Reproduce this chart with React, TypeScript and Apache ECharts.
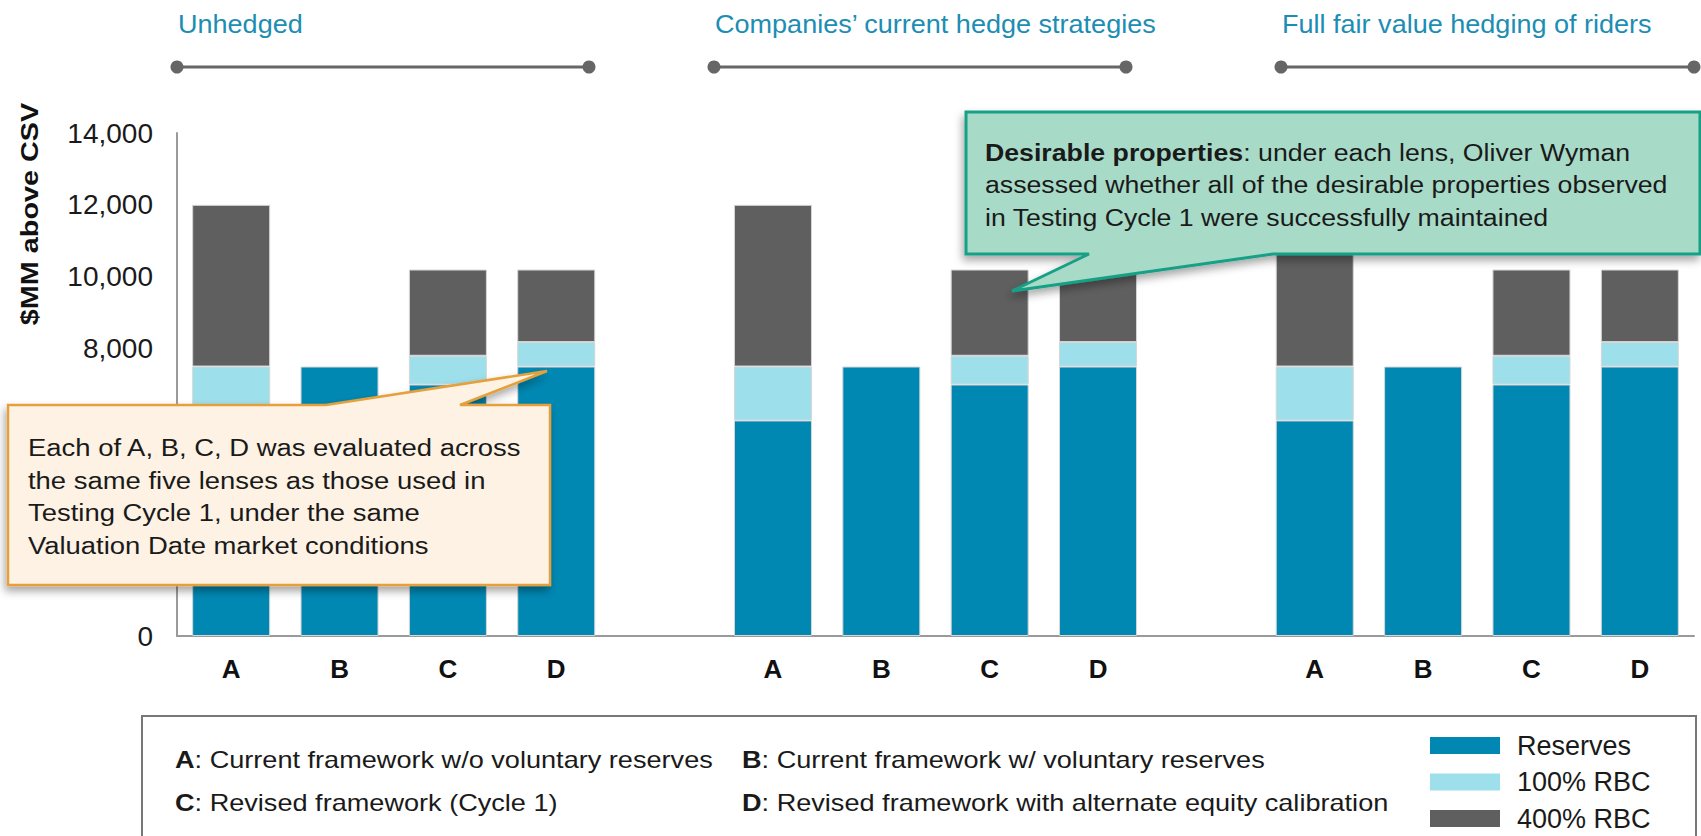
import React, { useEffect, useRef } from "react";
import * as echarts from "echarts";

const categories = ["A", "B", "C", "D", "", "A", "B", "C", "D", "", "A", "B", "C", "D"];
const reserves = [6000, 7500, 7000, 7500, null, 6000, 7500, 7000, 7500, null, 6000, 7500, 7000, 7500];
const rbc100 = [1500, null, 800, 680, null, 1500, null, 800, 680, null, 1500, null, 800, 680];
const rbc400 = [4500, null, 2400, 2020, null, 4500, null, 2400, 2020, null, 4500, null, 2400, 2020];
const seriesNames = ["Reserves", "100% RBC", "400% RBC"];
const seriesColors = ["#0088B3", "#9DDFEB", "#5F5F5F"];
const yTicks = { min: 0, max: 14000, interval: 2000 };
const yHiddenBelow = 8000; // labels 2,000–6,000 sit under the callout in the reference
const lensLabels = ["Unhedged", "Companies’ current hedge strategies", "Full fair value hedging of riders"];
const keyLabels = [
  ["A", ": Current framework w/o voluntary reserves"],
  ["B", ": Current framework w/ voluntary reserves"],
  ["C", ": Revised framework (Cycle 1)"],
  ["D", ": Revised framework with alternate equity calibration"],
];

const FONT = "Arial, 'Liberation Sans', Helvetica, sans-serif";

export default function App() {
  const ref = useRef<HTMLDivElement>(null);
  useEffect(() => {
    const chart = echarts.init(ref.current!, null, { renderer: "svg" });
    const mkBar = (name: string, data: (number | null)[], color: string) => ({
      name,
      type: "bar",
      stack: "total",
      data,
      barWidth: "72%",
      itemStyle: { color, borderColor: "#D6D6D6", borderWidth: 1 },
    });
    const brackets = [
      [177, 589],
      [714, 1126],
      [1281, 1694],
    ];
    const bracketEls: any[] = [];
    brackets.forEach(([x1, x2], i) => {
      bracketEls.push({
        type: "line",
        shape: { x1, y1: 67, x2, y2: 67 },
        style: { stroke: "#666666", lineWidth: 3 },
      });
      bracketEls.push({ type: "circle", shape: { cx: x1, cy: 67, r: 6.5 }, style: { fill: "#666666" } });
      bracketEls.push({ type: "circle", shape: { cx: x2, cy: 67, r: 6.5 }, style: { fill: "#666666" } });
      bracketEls.push({
        type: "text",
        x: x1 + 1,
        y: 24,
        scaleX: 1.04,
        style: {
          text: lensLabels[i],
          font: `26px ${FONT}`,
          fill: "#1C8DB3",
          verticalAlign: "middle",
          align: "left",
        },
      });
    });

    const keyPos = [
      [175, 760],
      [742, 760],
      [175, 803],
      [742, 803],
    ];
    const keyEls = keyLabels.map(([k, t], i) => ({
      type: "text",
      x: keyPos[i][0],
      y: keyPos[i][1],
      scaleX: 1.13,
      style: {
        text: `{b|${k}}${t}`,
        font: `24px ${FONT}`,
        fill: "#1a1a1a",
        verticalAlign: "middle",
        rich: { b: { fontWeight: "bold", fontSize: 24, fontFamily: FONT, fill: "#1a1a1a" } },
      },
    }));

    const option: any = {
      animation: false,
      textStyle: { fontFamily: FONT },
      grid: { left: 177, right: 7, top: 133, bottom: 200, containLabel: false },
      xAxis: {
        type: "category",
        data: categories,
        axisLine: { lineStyle: { color: "#9A9A9A", width: 2 } },
        axisTick: { show: false },
        axisLabel: { fontSize: 26, fontWeight: "bold", color: "#111", margin: 20, fontFamily: FONT },
      },
      yAxis: {
        type: "value",
        min: yTicks.min,
        max: yTicks.max,
        interval: yTicks.interval,
        axisLine: { show: true, lineStyle: { color: "#9A9A9A", width: 2 } },
        axisTick: { show: false },
        splitLine: { show: false },
        axisLabel: {
          fontSize: 28,
          color: "#1a1a1a",
          margin: 24,
          fontFamily: FONT,
          formatter: (v: number) => (v > 0 && v < yHiddenBelow ? "" : v.toLocaleString("en-US")),
        },
      },
      legend: {
        orient: "vertical",
        left: 1430,
        top: 732,
        height: 100,
        padding: 0,
        itemWidth: 70,
        itemHeight: 17,
        itemGap: 9.5,
        icon: "rect",
        data: seriesNames,
        itemStyle: { borderWidth: 0 },
        textStyle: { fontSize: 27, lineHeight: 24, color: "#1a1a1a", fontFamily: FONT, padding: [0, 0, 0, 12] },
      },
      series: [
        mkBar(seriesNames[0], reserves, seriesColors[0]),
        mkBar(seriesNames[1], rbc100, seriesColors[1]),
        mkBar(seriesNames[2], rbc400, seriesColors[2]),
      ],
      graphic: [
        ...bracketEls,
        {
          type: "text",
          x: 30,
          y: 214,
          rotation: Math.PI / 2,
          scaleX: 1.2,
          style: {
            text: "$MM above CSV",
            font: `bold 24px ${FONT}`,
            fill: "#111",
            align: "center",
            verticalAlign: "middle",
          },
        },
        // key box
        {
          type: "rect",
          z: 1,
          shape: { x: 142, y: 716, width: 1554, height: 200 },
          style: { fill: "none", stroke: "#777777", lineWidth: 2 },
        },
        ...keyEls,
        // orange callout
        {
          type: "polygon",
          z: 100,
          shape: {
            points: [
              [8, 405],
              [326, 405],
              [547, 371],
              [460, 405],
              [550, 405],
              [550, 585],
              [8, 585],
            ],
          },
          style: {
            fill: "#FDF2E4",
            stroke: "#E6A03A",
            lineWidth: 2.5,
            shadowBlur: 8,
            shadowOffsetX: -2,
            shadowOffsetY: 5,
            shadowColor: "rgba(0,0,0,0.35)",
          },
        },
        {
          type: "text",
          z: 101,
          x: 28,
          y: 431,
          scaleX: 1.12,
          style: {
            text:
              "Each of A, B, C, D was evaluated across\nthe same five lenses as those used in\nTesting Cycle 1, under the same\nValuation Date market conditions",
            font: `24.5px ${FONT}`,
            lineHeight: 32.7,
            fill: "#1a1a1a",
            verticalAlign: "top",
            align: "left",
          },
        },
        // green callout
        {
          type: "polygon",
          z: 100,
          shape: {
            points: [
              [966, 112],
              [1700, 112],
              [1700, 254],
              [1273, 254],
              [1012, 291],
              [1089, 254],
              [966, 254],
            ],
          },
          style: {
            fill: "#A8DAC8",
            stroke: "#17A085",
            lineWidth: 3,
            shadowBlur: 8,
            shadowOffsetX: -2,
            shadowOffsetY: 5,
            shadowColor: "rgba(0,0,0,0.35)",
          },
        },
        {
          type: "text",
          z: 101,
          x: 985,
          y: 136,
          scaleX: 1.09,
          style: {
            text:
              "{b|Desirable properties}{r|: under each lens, Oliver Wyman}\n{r|assessed whether all of the desirable properties observed}\n{r|in Testing Cycle 1 were successfully maintained}",
            font: `24.5px ${FONT}`,
            fill: "#1a1a1a",
            verticalAlign: "top",
            align: "left",
            rich: {
              b: { fontWeight: "bold", fontSize: 24.5, fontFamily: FONT, fill: "#1a1a1a", lineHeight: 32.5 },
              r: { fontSize: 24.5, fontFamily: FONT, fill: "#1a1a1a", lineHeight: 32.5 },
            },
          },
        },
      ],
    };
    chart.setOption(option);
    return () => chart.dispose();
  }, []);
  return (
    <div
      ref={ref}
      style={{ position: "fixed", left: 0, top: 0, width: 1701, height: 836, background: "#fff" }}
    />
  );
}
